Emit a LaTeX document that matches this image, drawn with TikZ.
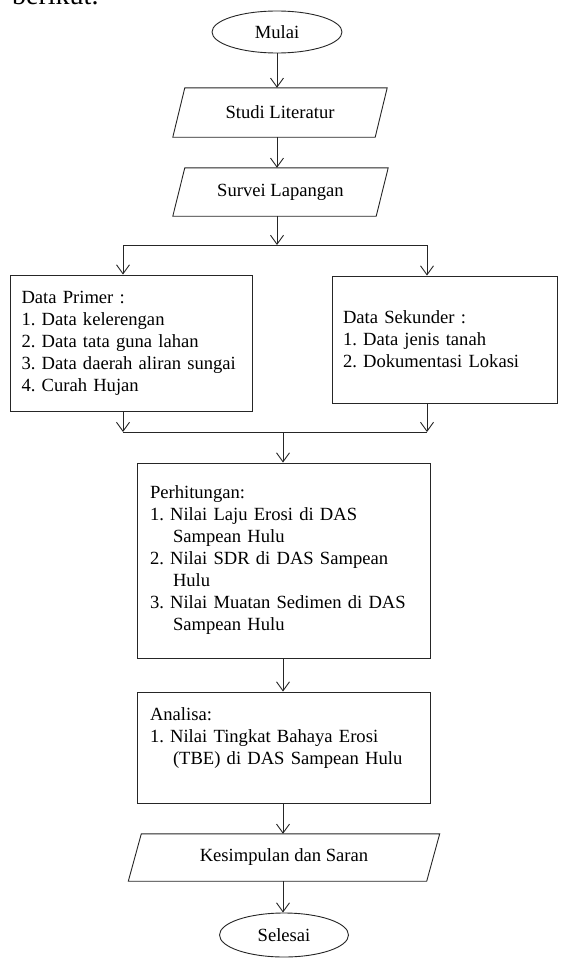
\documentclass[tikz,border=0pt]{standalone}
\usepackage{fontspec}
\setmainfont{Liberation Serif}
\newfontfamily\tnrfont{Liberation Serif}
\usetikzlibrary{shapes.geometric,arrows.meta}
\frenchspacing
\newcommand\parabox[2]{\draw[line] ([xshift=#2]#1.north west) -- ([xshift=#2]#1.north east) -- ([xshift=-#2]#1.south east) -- ([xshift=-#2]#1.south west) -- cycle;}
\begin{document}
\begin{tikzpicture}[x=1pt,y=-1pt,
  line/.style={draw=black!85,line width=0.9pt},
  arr/.style={line,-{Straight Barb[length=9pt,width=13pt,line width=0.9pt]}},
  txt/.style={font=\tnrfont\fontsize{18.6}{22}\selectfont},
  term/.style={ellipse,line,txt,inner sep=0pt},
  io/.style={rectangle,txt,inner sep=0pt},
  proc/.style={rectangle,line,txt,align=left,inner ysep=0pt},
]
\useasboundingbox (0,0) rectangle (560,958);
\fill[white] (0,0) rectangle (560,958);
\begin{scope}
\clip (0,0) rectangle (560,958);
\node[anchor=base west,font=\tnrfont\fontsize{28}{30}\selectfont,inner sep=0pt] (berikut) at (12,4.5) {berikut.};
\end{scope}

\node[term,minimum width=130pt,minimum height=42pt] (mulai) at (277,32) {Mulai};
\node[io,minimum width=202pt,minimum height=49pt] (studi) at (280,112.5) {Studi Literatur};
\parabox{studi}{6pt}
\node[io,minimum width=203pt,minimum height=48pt] (survei) at (280.5,192) {Survei Lapangan};
\parabox{survei}{6pt}

\node[proc,text width=220pt,inner xsep=11pt,minimum height=136pt] (lbox) at (131.5,343)
  {Data Primer :\\1. Data kelerengan\\2. Data tata guna lahan\\3. Data daerah aliran sungai\\4. Curah Hujan};
\node[proc,text width=203pt,inner xsep=11pt,minimum height=127pt] (rbox) at (444.5,339.5)
  {Data Sekunder :\\1. Data jenis tanah\\2. Dokumentasi Lokasi};

\node[proc,text width=267pt,inner xsep=13pt,minimum height=195pt] (hitung) at (283.5,560.5)
  {Perhitungan:\\1. Nilai Laju Erosi di DAS\\\hspace*{23pt}Sampean Hulu\\2. Nilai SDR di DAS Sampean\\\hspace*{23pt}Hulu\\3. Nilai Muatan Sedimen di DAS\\\hspace*{23pt}Sampean Hulu};
\node[proc,text width=267pt,inner xsep=13pt,minimum height=111pt] (analisa) at (283.5,747.5)
  {Analisa:\\1. Nilai Tingkat Bahaya Erosi\\\hspace*{23pt}(TBE) di DAS Sampean Hulu\\\mbox{}};

\node[io,minimum width=298pt,minimum height=47pt] (simpul) at (284,857.5) {Kesimpulan dan Saran};
\parabox{simpul}{6.5pt}
\node[term,minimum width=129pt,minimum height=44pt] (selesai) at (284,935) {Selesai};

\coordinate (split) at (277,245);
\coordinate (splitL) at (123,245);
\coordinate (splitR) at (427,245);
\coordinate (joinL) at (123,432);
\coordinate (joinR) at (427,432);
\coordinate (join) at (283,432);

\draw[arr] (mulai.south) -- (mulai.south |- studi.north);
\draw[arr] (studi.south -| mulai) -- (mulai |- survei.north);
\draw[arr] (survei.south -| mulai) -- (split);
\draw[line] (splitL) -- (splitR);
\draw[arr] (splitL) -- (splitL |- lbox.north);
\draw[arr] (splitR) -- (splitR |- rbox.north);
\draw[arr] (lbox.south -| splitL) -- (joinL);
\draw[arr] (rbox.south -| splitR) -- (joinR);
\draw[line] (joinL) -- (joinR);
\draw[arr] (join) -- (join |- hitung.north);
\draw[arr] (hitung.south -| join) -- (join |- analisa.north);
\draw[arr] (analisa.south -| join) -- (join |- simpul.north);
\draw[arr] (simpul.south -| join) -- (join |- selesai.north);
\end{tikzpicture}
\end{document}
